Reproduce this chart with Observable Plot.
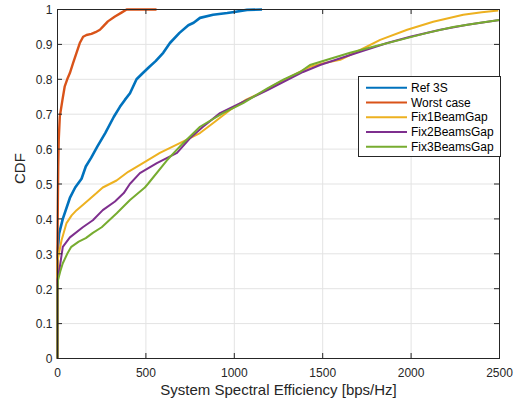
<!DOCTYPE html>
<html><head><meta charset="utf-8">
<script src="https://cdn.jsdelivr.net/npm/d3@7"></script>
<script src="https://cdn.jsdelivr.net/npm/@observablehq/plot@0.6"></script>
<style>
body{margin:0;background:#fff;}
#wrap{position:relative;width:521px;height:402px;font-family:"Liberation Sans",Arial,sans-serif;}
#legend{position:absolute;left:358px;top:76px;width:143px;height:81px;box-sizing:border-box;border:1px solid #262626;background:#fff;}
</style></head><body><div id="wrap"></div>
<script>
// ---- data ----
const seriesNames = ["Ref 3S", "Worst case", "Fix1BeamGap", "Fix2BeamsGap", "Fix3BeamsGap"];
const seriesColors = ["#0072BD", "#D95319", "#EDB120", "#7E2F8E", "#77AC30"];

const refX = [0, 0, 9, 30, 70, 100, 136, 160, 190, 225, 270, 318, 353, 381, 410, 447, 483, 520, 555, 598, 636, 690, 740, 770, 806, 880, 960, 1000, 1072, 1157];
const refY = [0, 0.30, 0.358, 0.40, 0.46, 0.49, 0.515, 0.55, 0.575, 0.607, 0.646, 0.692, 0.721, 0.741, 0.76, 0.80, 0.818, 0.836, 0.852, 0.876, 0.904, 0.933, 0.955, 0.962, 0.976, 0.985, 0.99, 0.993, 0.999, 1.0];

const worstX = [0, 0, 2, 4, 7, 13, 28, 41, 55, 70, 88, 107, 126, 145, 164, 192, 215, 240, 257, 285, 325, 362, 391, 560];
const worstY = [0, 0.33, 0.45, 0.55, 0.627, 0.693, 0.741, 0.78, 0.80, 0.818, 0.846, 0.875, 0.904, 0.922, 0.927, 0.93, 0.935, 0.942, 0.951, 0.966, 0.98, 0.991, 1, 1];

const fix1X = [0, 0, 23, 51, 80, 108, 143, 221, 256, 334, 400, 483, 579, 692, 806, 879, 976, 1061, 1146, 1230, 1315, 1428, 1510, 1599, 1712, 1825, 1978, 2125, 2295, 2400, 2493];
const fix1Y = [0, 0.28, 0.339, 0.388, 0.41, 0.425, 0.44, 0.474, 0.49, 0.51, 0.535, 0.56, 0.589, 0.617, 0.646, 0.674, 0.712, 0.74, 0.76, 0.785, 0.807, 0.836, 0.847, 0.856, 0.884, 0.913, 0.942, 0.965, 0.985, 0.992, 0.997];

const fix2X = [0, 0, 13, 30, 70, 143, 200, 256, 325, 375, 409, 466, 562, 676, 749, 823, 919, 1072, 1191, 1389, 1485, 1712, 1865, 1995, 2165, 2318, 2500];
const fix2Y = [0, 0.225, 0.262, 0.32, 0.347, 0.376, 0.396, 0.425, 0.45, 0.474, 0.50, 0.531, 0.56, 0.589, 0.631, 0.664, 0.703, 0.741, 0.77, 0.821, 0.841, 0.879, 0.904, 0.922, 0.942, 0.956, 0.97];

const fix3X = [0, 0, 3, 16, 30, 55, 78, 120, 160, 200, 250, 335, 410, 494, 511, 619, 710, 806, 936, 1050, 1190, 1280, 1372, 1428, 1525, 1655, 1785, 1938, 2091, 2238, 2391, 2500];
const fix3Y = [0, 0.20, 0.225, 0.25, 0.273, 0.30, 0.32, 0.335, 0.345, 0.36, 0.376, 0.416, 0.454, 0.49, 0.50, 0.568, 0.617, 0.664, 0.703, 0.732, 0.775, 0.80, 0.821, 0.841, 0.856, 0.876, 0.893, 0.913, 0.933, 0.95, 0.962, 0.97];

const xTicks = [0, 500, 1000, 1500, 2000, 2500];
const yTicks = [0, 0.1, 0.2, 0.3, 0.4, 0.5, 0.6, 0.7, 0.8, 0.9, 1];
const xLabel = "System Spectral Efficiency [bps/Hz]";
const yLabel = "CDF";

// ---- build ----
const W = 521, H = 402, mL = 57, mR = 22, mT = 9, mB = 44;
const innerW = W - mL - mR, innerH = H - mT - mB;
const allX = [refX, worstX, fix1X, fix2X, fix3X];
const allY = [refY, worstY, fix1Y, fix2Y, fix3Y];
const widths = [2.6, 2.4, 2, 2, 2];
const axisColor = "#262626";

const lineMarks = allX.map((xs, i) =>
  Plot.line(xs.map((x, j) => ({x, y: allY[i][j]})), {
    x: "x", y: "y", stroke: seriesColors[i], strokeWidth: widths[i], strokeLinejoin: "round", strokeLinecap: "butt"
  })
);

const chart = Plot.plot({
  width: W, height: H,
  marginLeft: mL, marginRight: mR, marginTop: mT, marginBottom: mB,
  style: {fontFamily: "'Liberation Sans', Arial, sans-serif", fontSize: "12px", color: axisColor, background: "#fff"},
  x: {domain: [0, 2500]},
  y: {domain: [0, 1]},
  marks: [
    Plot.gridX(xTicks, {stroke: "#e3e3e3", strokeOpacity: 1}),
    Plot.gridY(yTicks, {stroke: "#e3e3e3", strokeOpacity: 1}),
    ...lineMarks,
    Plot.frame({stroke: axisColor}),
    Plot.tickX(xTicks, {x: d => d, insetTop: innerH - 5, stroke: axisColor}),
    Plot.tickX(xTicks, {x: d => d, insetBottom: innerH - 5, stroke: axisColor}),
    Plot.tickY(yTicks, {y: d => d, insetRight: innerW - 5, stroke: axisColor}),
    Plot.tickY(yTicks, {y: d => d, insetLeft: innerW - 5, stroke: axisColor}),
    Plot.axisX(xTicks, {tickSize: 0, tickPadding: 10, label: null, tickFormat: d => String(d), fill: axisColor}),
    Plot.axisY(yTicks, {tickSize: 0, tickPadding: 5, label: null, tickFormat: d => String(d), dy: 1, fill: axisColor}),
    Plot.text([xLabel], {text: d => d, frameAnchor: "bottom", dy: 36.5, fontSize: 15, fill: axisColor}),
    Plot.text([yLabel], {text: d => d, frameAnchor: "left", dx: -37, rotate: -90, fontSize: 15, fill: axisColor})
  ]
});

const wrap = document.getElementById("wrap");
wrap.appendChild(chart);

// legend
const leg = d3.select(wrap).append("div").attr("id", "legend");
const lsvg = leg.append("svg").attr("width", 141).attr("height", 79).style("display", "block");
seriesNames.forEach((name, i) => {
  const cy = 10.7 + i * 14.75;
  lsvg.append("line").attr("x1", 7).attr("x2", 48).attr("y1", cy).attr("y2", cy)
    .attr("stroke", seriesColors[i]).attr("stroke-width", 2);
  lsvg.append("text").attr("x", 52).attr("y", cy).attr("dy", "0.35em")
    .attr("font-size", 12).attr("fill", "#000").attr("font-family", "'Liberation Sans', Arial, sans-serif").text(name);
});
</script>
</body></html>
